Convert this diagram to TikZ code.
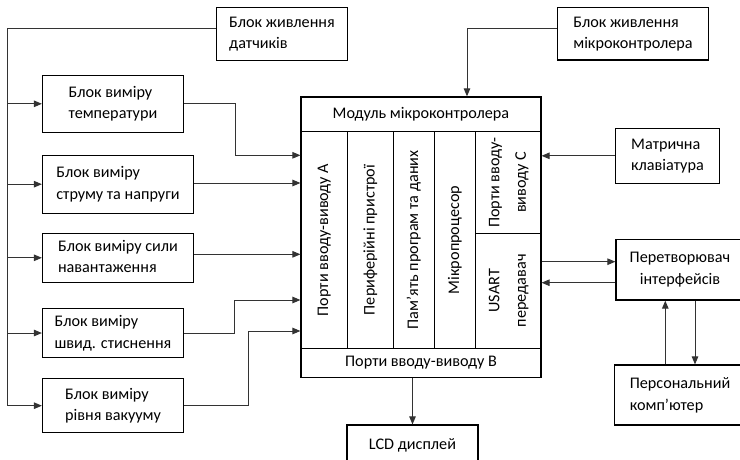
\documentclass[tikz,border=0pt]{standalone}
\usepackage{fontspec}
\setmainfont{Carlito}
\usetikzlibrary{arrows.meta}
% two left-aligned lines
\newcommand\twoline[2]{\begin{tabular}{@{}l@{}}#1\\#2\end{tabular}}
% two centred lines, turned upright
\newcommand\upline[2]{\rotatebox{90}{\begin{tabular}{@{}c@{}}#1\\[5pt]#2\end{tabular}}}

\begin{document}
\begin{tikzpicture}[x=1pt,y=-1pt,font=\fontsize{16.2}{21.7}\selectfont,
  blk/.style={draw,line width=1.2pt,inner sep=0pt},
  cell/.style={draw,line width=1.2pt,inner sep=0pt,align=center},
  wire/.style={line width=1pt,black!80},
  arr/.style={wire,-{Triangle[length=8pt,width=6.5pt]}}]
\clip (0,0) rectangle (740,459);
% sensor side
\node[blk,minimum width=131pt,minimum height=53pt] (psens) at (282,33.7) {\twoline{Блок живлення}{датчиків}};
\node[blk,minimum width=141pt,minimum height=57pt] (temp)  at (113,103.8) {\twoline{Блок виміру}{температури}};
\node[blk,minimum width=151pt,minimum height=58pt] (curr)  at (118,184.2) {\twoline{Блок виміру}{струму та напруги}};
\node[blk,minimum width=151pt,minimum height=49pt] (load)  at (118,257.8) {\twoline{Блок виміру сили}{навантаження}};
\node[blk,minimum width=141pt,minimum height=49pt] (speed) at (113,333) {\twoline{Блок виміру}{швид. стиснення}};
\node[blk,minimum width=141pt,minimum height=54pt] (vac)   at (113,405.7) {\twoline{Блок виміру}{рівня вакууму}};
% microcontroller module
\node[cell,minimum width=240pt,minimum height=34.7pt] (title) at (421,114.3) {Модуль мікроконтролера};
\node[cell,minimum width=46.3pt,minimum height=216.6pt] (colA) at (324.2,240) {\rotatebox{90}{Порти вводу-виводу А}};
\node[cell,minimum width=46pt,minimum height=216.6pt] (colB) at (370.3,240) {\rotatebox{90}{Периферійні пристрої}};
\node[cell,minimum width=41pt,minimum height=216.6pt] (colC) at (413.8,240) {\rotatebox{90}{Пам'ять програм та даних}};
\node[cell,minimum width=41.4pt,minimum height=216.6pt] (colD) at (455,240) {\rotatebox{90}{Мікропроцесор}};
\node[cell,minimum width=65.3pt,minimum height=101.6pt] (portC) at (508.3,182.5) {\upline{Порти вводу-}{виводу С}};
\node[cell,minimum width=65.3pt,minimum height=115pt] (usart) at (508.3,290.8) {\upline{USART}{передавач}};
\node[cell,minimum width=240pt,minimum height=29.4pt] (portB) at (421,363) {Порти вводу-виводу В};
% other blocks
\node[blk,minimum width=150.6pt,minimum height=52.7pt] (pmcu) at (633,33.7) {\twoline{Блок живлення}{мікроконтролера}};
\node[blk,minimum width=103.6pt,minimum height=55pt] (kbd) at (667.5,155.8) {\twoline{Матрична}{клавіатура}};
\node[cell,minimum width=128pt,minimum height=60.7pt] (conv) at (680,269.7) {Перетворювач\\інтерфейсів};
\node[blk,minimum width=131pt,minimum height=60pt] (pc) at (680,395) {\twoline{Персональний}{комп’ютер}};
\node[cell,minimum width=131pt,minimum height=40pt] (lcd) at (412.5,445) {LCD дисплей};
% inputs of port A
\coordinate (bus) at (7,0);
\coordinate (inA1) at (colA.west |- 0,155.3);
\coordinate (inA2) at (colA.west |- 0,183);
\coordinate (inA3) at (colA.west |- 0,254.3);
\coordinate (inA4) at (colA.west |- 0,300);
\coordinate (inA5) at (colA.west |- 0,331);
% power bus
\draw[wire] ([yshift=5.3pt]psens.west) -| (vac.west -| bus);
\foreach \b in {temp,curr,load,speed,vac}
  \draw[arr] (\b.west -| bus) -- (\b.west);
% sensors to port A
\draw[arr] (temp.east) -- ++(51,0) |- (inA1);
\draw[arr] (curr.east |- inA2) -- (inA2);
\draw[arr] (load.east |- inA3) -- (inA3);
\draw[arr] (speed.east) -- ++(50,0) |- (inA4);
\draw[arr] (vac.east) -- ++(64,0) |- (inA5);
% right side
\draw[arr] ([yshift=5.4pt]pmcu.west) -| ([xshift=46pt]title.north);
\draw[arr] (kbd.west) -- (kbd.west -| portC.east);
\draw[arr] (usart.east |- 0,261.7) -- ([yshift=8pt]conv.west);
\draw[arr] ([yshift=-13pt]conv.west) -- (usart.east |- 0,282.7);
\draw[arr] ([xshift=-14.7pt]pc.north) -- ([xshift=-14.7pt]conv.south);
\draw[arr] ([xshift=15pt]conv.south) -- ([xshift=15pt]pc.north);
\draw[arr] (portB.south -| lcd.north) -- (lcd.north);
\end{tikzpicture}
\end{document}
